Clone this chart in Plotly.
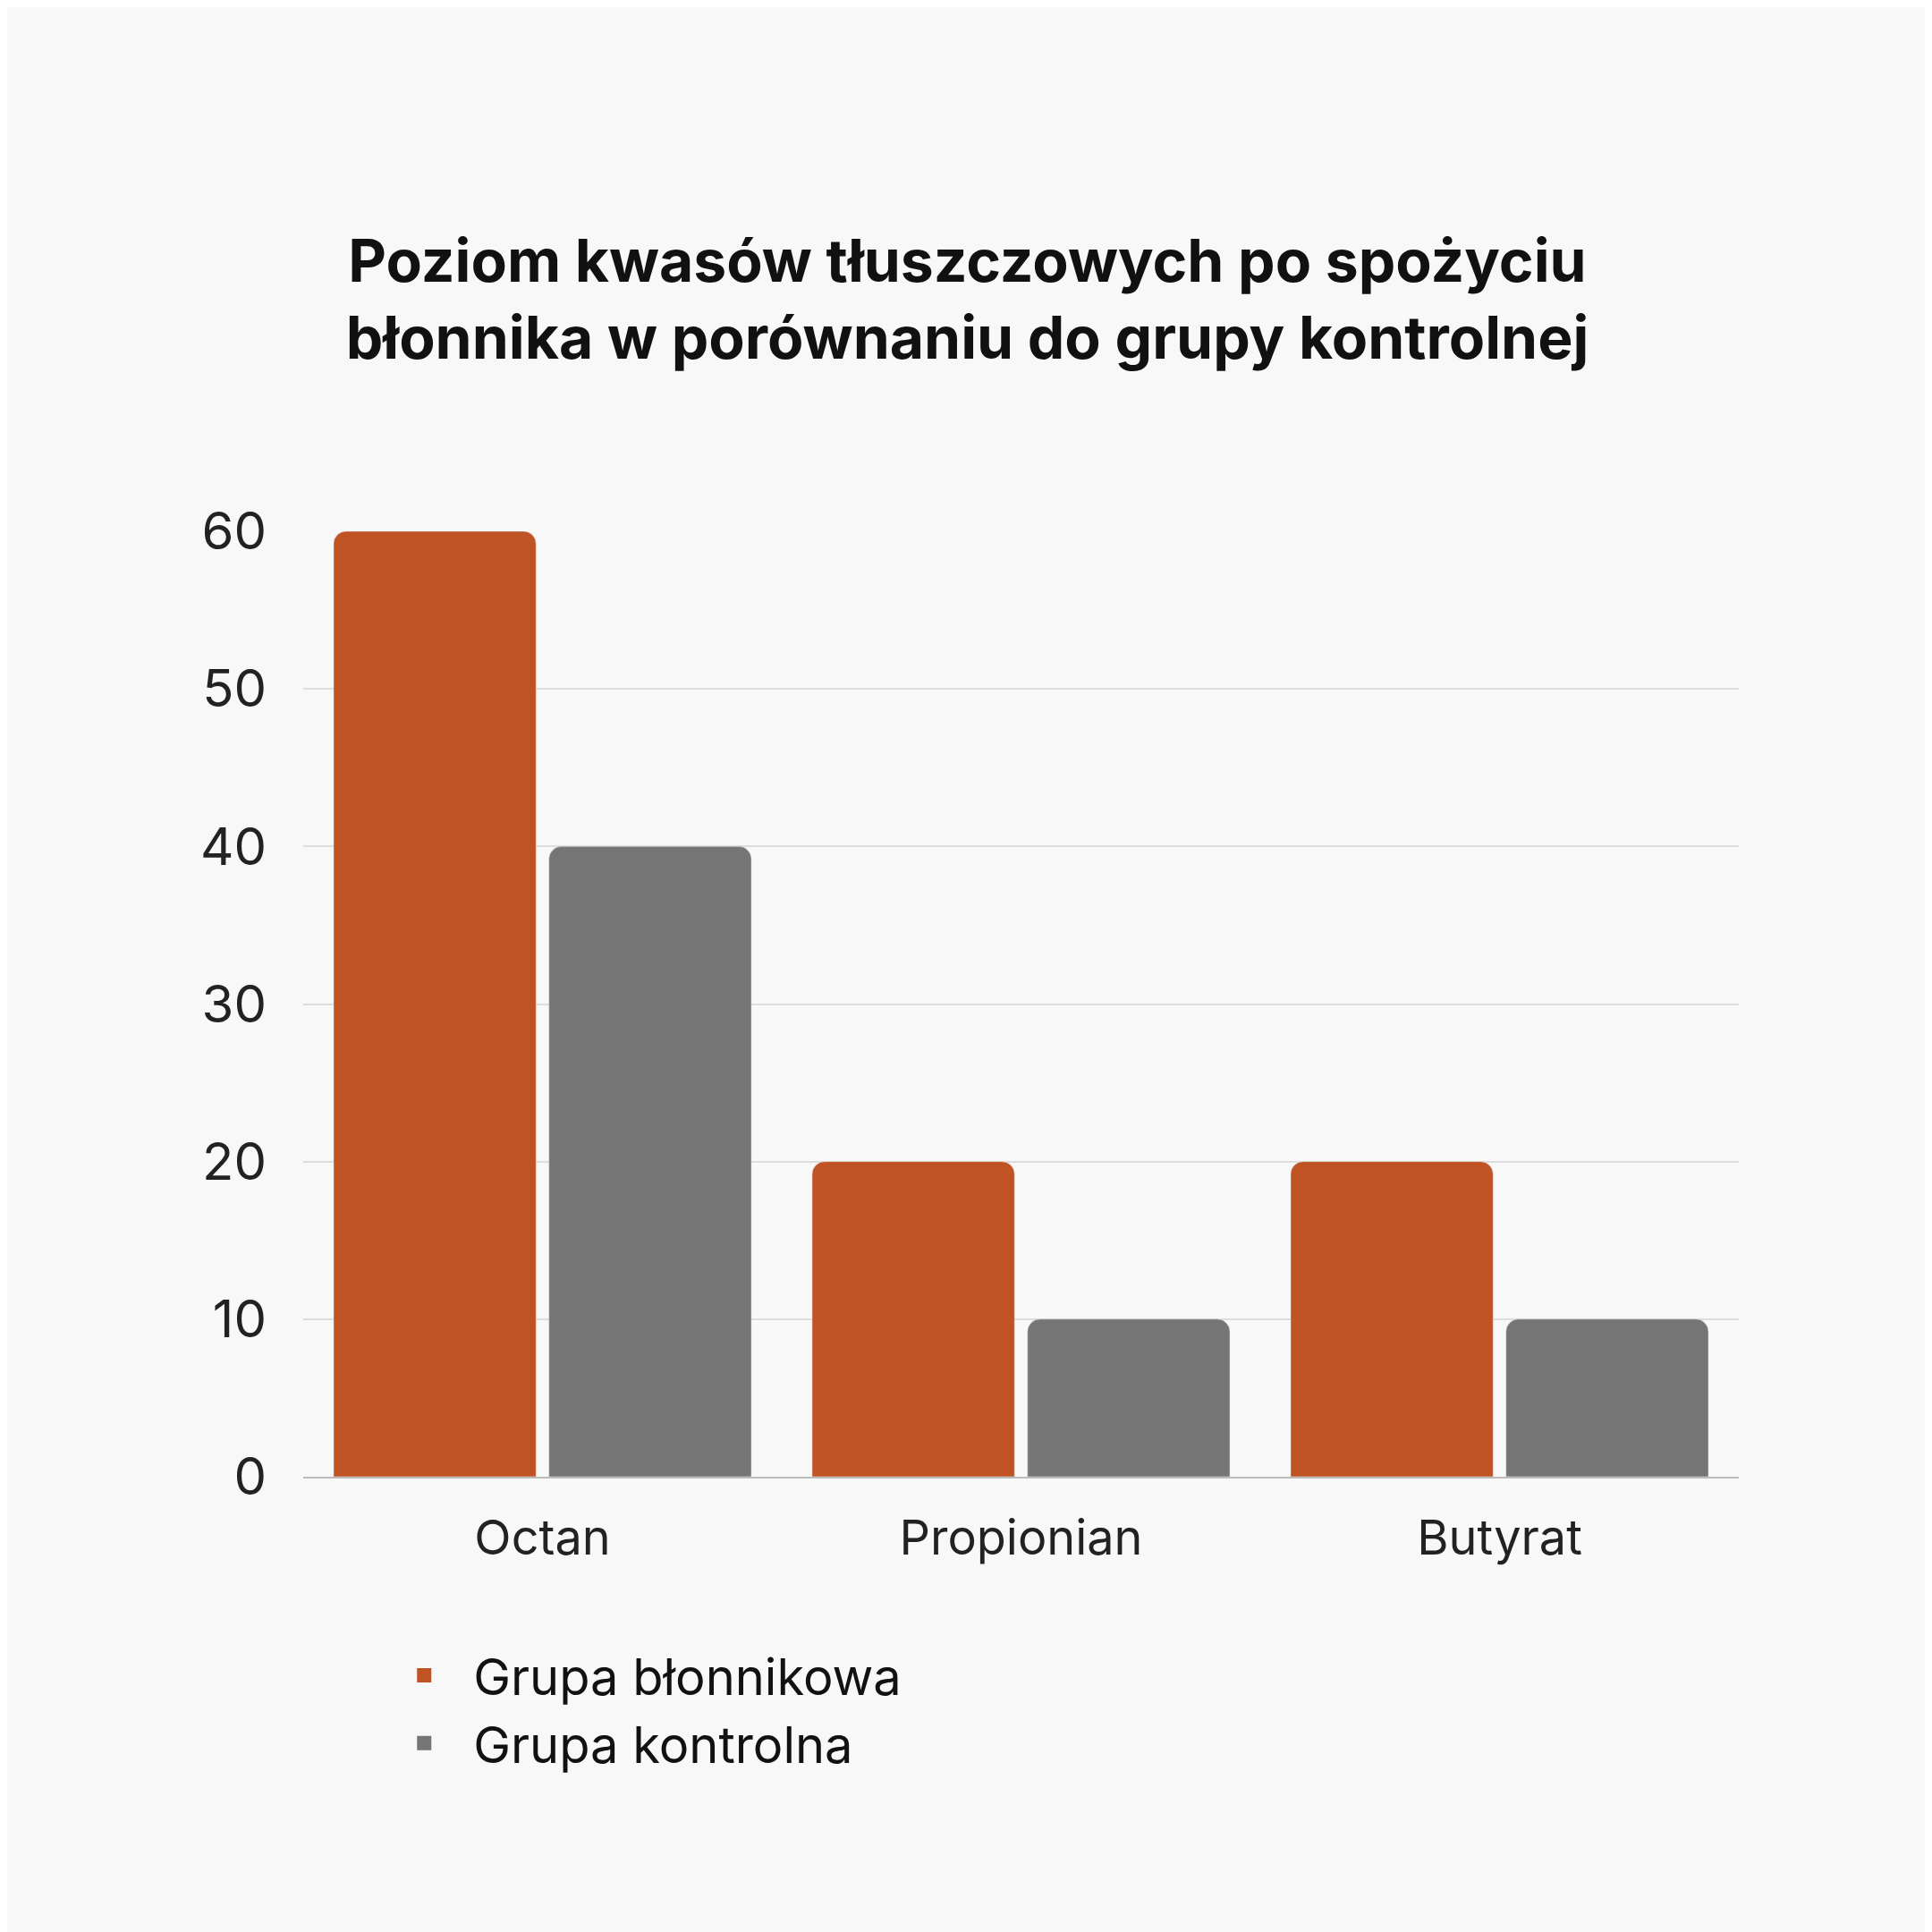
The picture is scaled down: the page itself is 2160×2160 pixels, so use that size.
import plotly.graph_objects as go

categories = ["Octan", "Propionian", "Butyrat"]
fiber = [60, 20, 20]
control = [40, 10, 10]
series_names = ["Grupa błonnikowa", "Grupa kontrolna"]
colors = ["#c05323", "#757575"]

fig = go.Figure()
fig.add_bar(x=categories, y=fiber, name=series_names[0], showlegend=False,
            marker=dict(color=colors[0], cornerradius=14))
fig.add_bar(x=categories, y=control, name=series_names[1], showlegend=False,
            marker=dict(color=colors[1], cornerradius=14))
for name, c in zip(series_names, colors):
    fig.add_scatter(x=[None], y=[None], mode="markers", name=name,
                    marker=dict(symbol="square", size=62, color=c))

fig.update_layout(
    width=2160, height=2160, paper_bgcolor="#f8f8f8", plot_bgcolor="#f8f8f8",
    font=dict(family="Inter", color="#111111"),
    title=dict(text="<b>Poziom kwasów tłuszczowych po spożyciu<br>błonnika w porównaniu do grupy kontrolnej</b>",
               x=0.497, xanchor="center", y=0.858, yanchor="middle", font=dict(size=66, color="#111111")),
    barmode="group", bargap=0.1, bargroupgap=0.06,
    margin=dict(l=331, r=224, t=586, b=517),
    xaxis=dict(tickfont=dict(size=54, color="#222222"), showline=True, linecolor="#bbbbbb", linewidth=2, ticks="", ticklabelstandoff=20),
    yaxis=dict(range=[0, 60], dtick=10, tickfont=dict(size=58, color="#222222"), gridcolor="#dddddd", gridwidth=2,
               zeroline=False, ticks="", ticklabelstandoff=40),
    legend=dict(orientation="h", x=0.05, xanchor="left", y=-0.246, yanchor="middle", bgcolor="rgba(0,0,0,0)",
                font=dict(size=56, color="#111111"), itemwidth=100, entrywidth=752, itemsizing="trace"),
)
fig.write_html("out.html")
